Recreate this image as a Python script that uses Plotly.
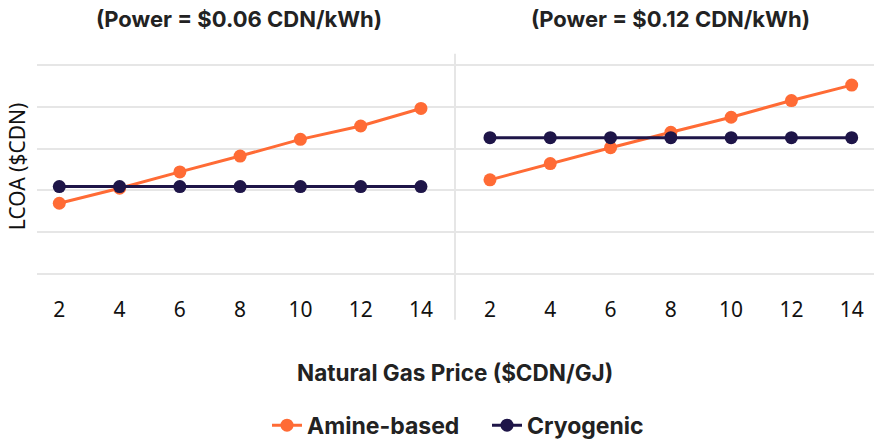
import plotly.graph_objects as go

W, H = 881, 447

gas_price = [2, 4, 6, 8, 10, 12, 14]
amine_006 = [1.69, 2.05, 2.44, 2.82, 3.22, 3.54, 3.96]
cryo_006 = [2.09, 2.09, 2.09, 2.09, 2.09, 2.09, 2.09]
amine_012 = [2.25, 2.64, 3.02, 3.39, 3.75, 4.15, 4.52]
cryo_012 = [3.26, 3.26, 3.26, 3.26, 3.26, 3.26, 3.26]
tick_vals = [2, 4, 6, 8, 10, 12, 14]
titles = ["(Power = $0.06 CDN/kWh)", "(Power = $0.12 CDN/kWh)"]

ORANGE = "#FF6B35"
NAVY = "#1E1548"
GRID = "#E6E6E6"
TITLE_FONT = "Inter"
TICK_FONT = "Noto Sans"

def px_x(p):
    return p / W

def px_y(p):
    return 1 - p / H

fig = go.Figure()

for i, (am, cr) in enumerate([(amine_006, cryo_006), (amine_012, cryo_012)]):
    xa = "x" if i == 0 else "x2"
    ya = "y" if i == 0 else "y2"
    fig.add_trace(go.Scatter(x=gas_price, y=am, mode="lines+markers", name="Amine-based",
                             line=dict(color=ORANGE, width=3), marker=dict(color=ORANGE, size=13),
                             xaxis=xa, yaxis=ya, showlegend=(i == 0)))
    fig.add_trace(go.Scatter(x=gas_price, y=cr, mode="lines+markers", name="Cryogenic",
                             line=dict(color=NAVY, width=3), marker=dict(color=NAVY, size=13),
                             xaxis=xa, yaxis=ya, showlegend=(i == 0)))

ydom = [px_y(292), px_y(55)]
yrange = [-0.28, 5.27]
common_x = dict(tickvals=tick_vals, showgrid=False, zeroline=False, showline=False, ticks="",
                tickfont=dict(family=TICK_FONT, size=21, color="#111111"), ticklabelstandoff=10)
common_y = dict(range=yrange, domain=ydom, dtick=1, tick0=0, showticklabels=False, showgrid=True,
                gridcolor=GRID, gridwidth=2, zeroline=False, showline=False, ticks="")

fig.update_layout(
    width=W, height=H, autosize=False,
    margin=dict(l=0, r=0, t=0, b=0),
    paper_bgcolor="white", plot_bgcolor="white",
    xaxis=dict(domain=[px_x(37), px_x(455)], range=[1.26, 15.13], anchor="y", **common_x),
    xaxis2=dict(domain=[px_x(455), px_x(874)], range=[0.84, 14.74], anchor="y2", **common_x),
    yaxis=dict(anchor="x", **common_y),
    yaxis2=dict(anchor="x2", **common_y),
    showlegend=True,
    legend=dict(orientation="h", x=px_x(487), xanchor="center", y=px_y(435), yanchor="middle",
                font=dict(family=TITLE_FONT, size=23, color="#222222", weight=700),
                entrywidth=175, entrywidthmode="pixels", bgcolor="rgba(0,0,0,0)"),
)

fig.add_shape(type="line", xref="paper", yref="paper", x0=px_x(455), x1=px_x(455),
              y0=px_y(327), y1=px_y(55), line=dict(color=GRID, width=2), layer="below")

fig.add_annotation(text=titles[0], xref="paper", yref="paper", x=px_x(239), y=px_y(19),
                   showarrow=False, xanchor="center", yanchor="middle",
                   font=dict(family=TITLE_FONT, size=22, color="#222222", weight=700))
fig.add_annotation(text=titles[1], xref="paper", yref="paper", x=px_x(670), y=px_y(19),
                   showarrow=False, xanchor="center", yanchor="middle",
                   font=dict(family=TITLE_FONT, size=22, color="#222222", weight=700))
fig.add_annotation(text="Natural Gas Price ($CDN/GJ)", xref="paper", yref="paper", x=px_x(455), y=px_y(381),
                   showarrow=False, xanchor="center", yanchor="middle",
                   font=dict(family=TITLE_FONT, size=22.5, color="#222222", weight=700))
fig.add_annotation(text="LCOA ($CDN)", xref="paper", yref="paper", x=px_x(17), y=px_y(171),
                   showarrow=False, xanchor="center", yanchor="middle", textangle=-90,
                   font=dict(family=TICK_FONT, size=21, color="#111111"))

fig.write_html("out.html", config={"displayModeBar": False},
               post_script="document.body.style.margin='0';document.body.style.overflow='hidden';")
